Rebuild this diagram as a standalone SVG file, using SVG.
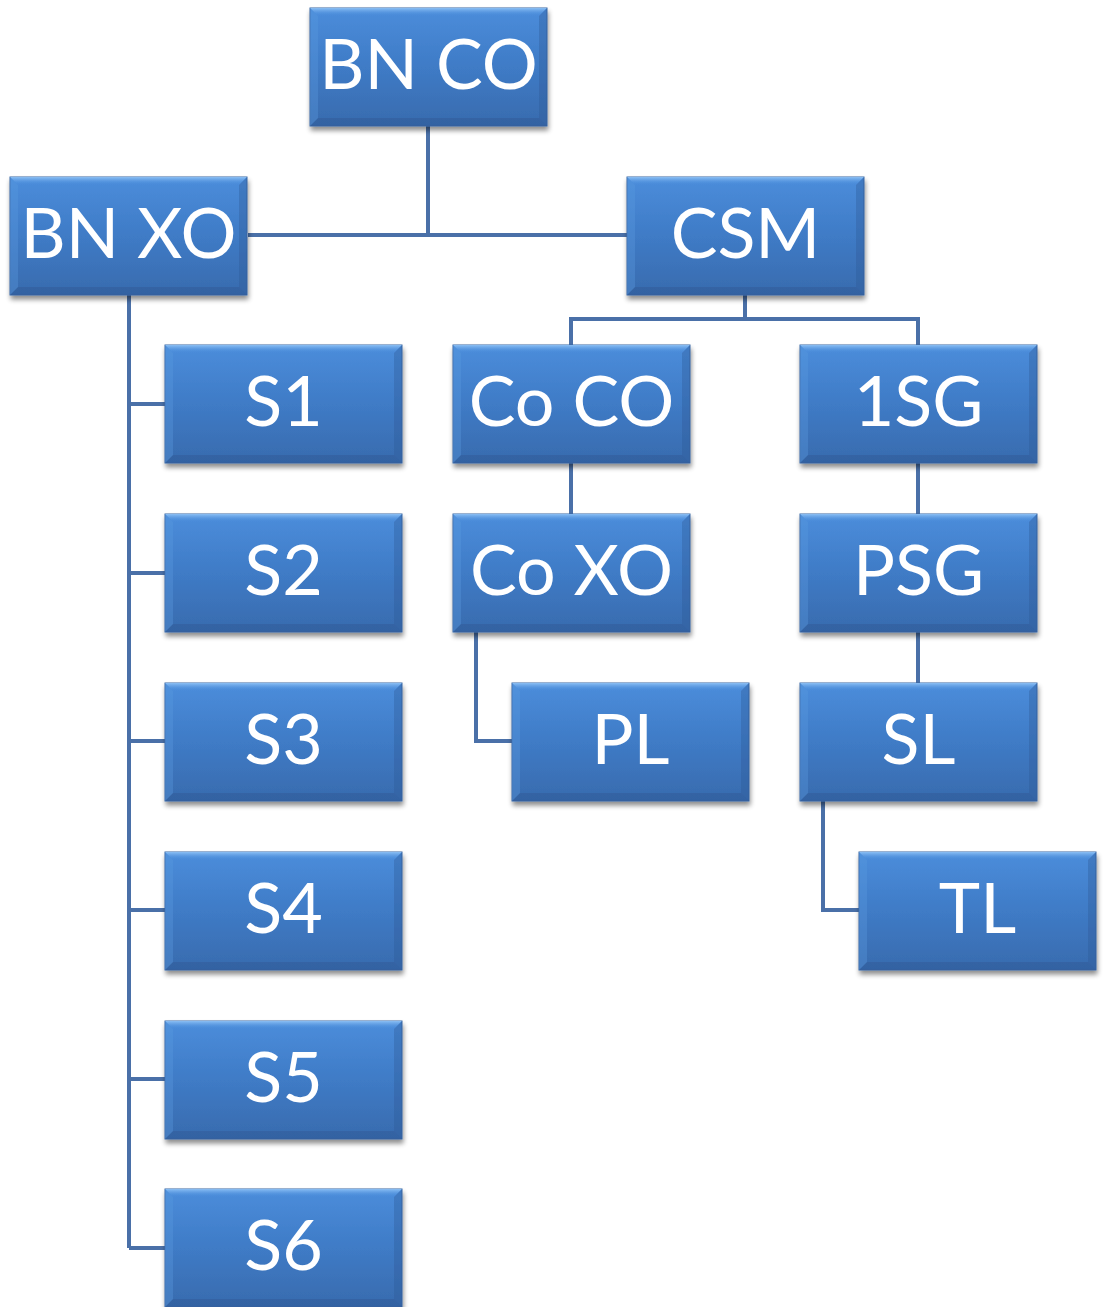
<svg xmlns="http://www.w3.org/2000/svg" width="1107" height="1307" viewBox="0 0 1107 1307">
<defs>
<linearGradient id="g" x1="0" y1="0" x2="0" y2="1">
<stop offset="0" stop-color="#4b8ddb"/>
<stop offset="0.5" stop-color="#3f7bc6"/>
<stop offset="1" stop-color="#386bae"/>
</linearGradient>
<linearGradient id="top" x1="0" y1="0" x2="0" y2="1">
<stop offset="0" stop-color="#8cc0f5"/>
<stop offset="1" stop-color="#4b8ddb" stop-opacity="0"/>
</linearGradient>
<filter id="sh" x="-10%" y="-10%" width="125%" height="130%">
<feGaussianBlur in="SourceAlpha" stdDeviation="2.5"/>
<feOffset dx="1" dy="4" result="b"/>
<feComponentTransfer><feFuncA type="linear" slope="0.45"/></feComponentTransfer>
<feMerge><feMergeNode/><feMergeNode in="SourceGraphic"/></feMerge>
</filter>
<g id="box">
<rect x="0" y="0" width="237" height="118" fill="url(#g)" stroke="#3a67a3" stroke-width="1"/>
<polygon points="0,0 237,0 229,8 8,8" fill="url(#top)"/>
<polygon points="237,0 237,118 229,110 229,8" fill="#2f5a94" opacity="0.35"/>
<polygon points="0,118 237,118 229,110 8,110" fill="#2a538b" opacity="0.35"/>
<polygon points="0,0 8,8 8,110 0,118" fill="#5b9be0" opacity="0.35"/>
</g>
</defs>
<style>
.c{fill:none;stroke:#4a70a8;stroke-width:4;stroke-linejoin:miter}
.t{font-family:Lato,"Open Sans",sans-serif;font-size:70px;fill:#ffffff;text-anchor:middle}
</style>
<g id="connectors" class="c">
<path d="M428,126 V235 M248,235 H627"/>
<path d="M129,295 V1248 M129,404 H165 M129,573 H165 M129,741 H165 M129,910 H165 M129,1079 H165 M129,1248 H165"/>
<path d="M745,295 V319 M571,345 V319 H918 V345"/>
<path d="M571,463 V514"/>
<path d="M476,632 V741 H512"/>
<path d="M918,463 V514 M918,632 V683"/>
<path d="M823,800 V910 H859"/>
</g>
<g filter="url(#sh)">
<g id="n-bnco"><use href="#box" x="310" y="8"/><text class="t" x="428.5" y="89">BN CO</text></g>
<g id="n-bnxo"><use href="#box" x="10" y="177"/><text class="t" x="128.5" y="258">BN XO</text></g>
<g id="n-csm"><use href="#box" x="627" y="177"/><text class="t" x="745.5" y="258">CSM</text></g>
<g id="n-s1"><use href="#box" x="165" y="345"/><text class="t" x="283.5" y="426">S1</text></g>
<g id="n-s2"><use href="#box" x="165" y="514"/><text class="t" x="283.5" y="595">S2</text></g>
<g id="n-s3"><use href="#box" x="165" y="683"/><text class="t" x="283.5" y="764">S3</text></g>
<g id="n-s4"><use href="#box" x="165" y="852"/><text class="t" x="283.5" y="933">S4</text></g>
<g id="n-s5"><use href="#box" x="165" y="1021"/><text class="t" x="283.5" y="1102">S5</text></g>
<g id="n-s6"><use href="#box" x="165" y="1189"/><text class="t" x="283.5" y="1270">S6</text></g>
<g id="n-coco"><use href="#box" x="453" y="345"/><text class="t" x="571.5" y="426">Co CO</text></g>
<g id="n-coxo"><use href="#box" x="453" y="514"/><text class="t" x="571.5" y="595">Co XO</text></g>
<g id="n-pl"><use href="#box" x="512" y="683"/><text class="t" x="630.5" y="764">PL</text></g>
<g id="n-1sg"><use href="#box" x="800" y="345"/><text class="t" x="918.5" y="426">1SG</text></g>
<g id="n-psg"><use href="#box" x="800" y="514"/><text class="t" x="918.5" y="595">PSG</text></g>
<g id="n-sl"><use href="#box" x="800" y="683"/><text class="t" x="918.5" y="764">SL</text></g>
<g id="n-tl"><use href="#box" x="859" y="852"/><text class="t" x="977.5" y="933">TL</text></g>
</g>
</svg>
